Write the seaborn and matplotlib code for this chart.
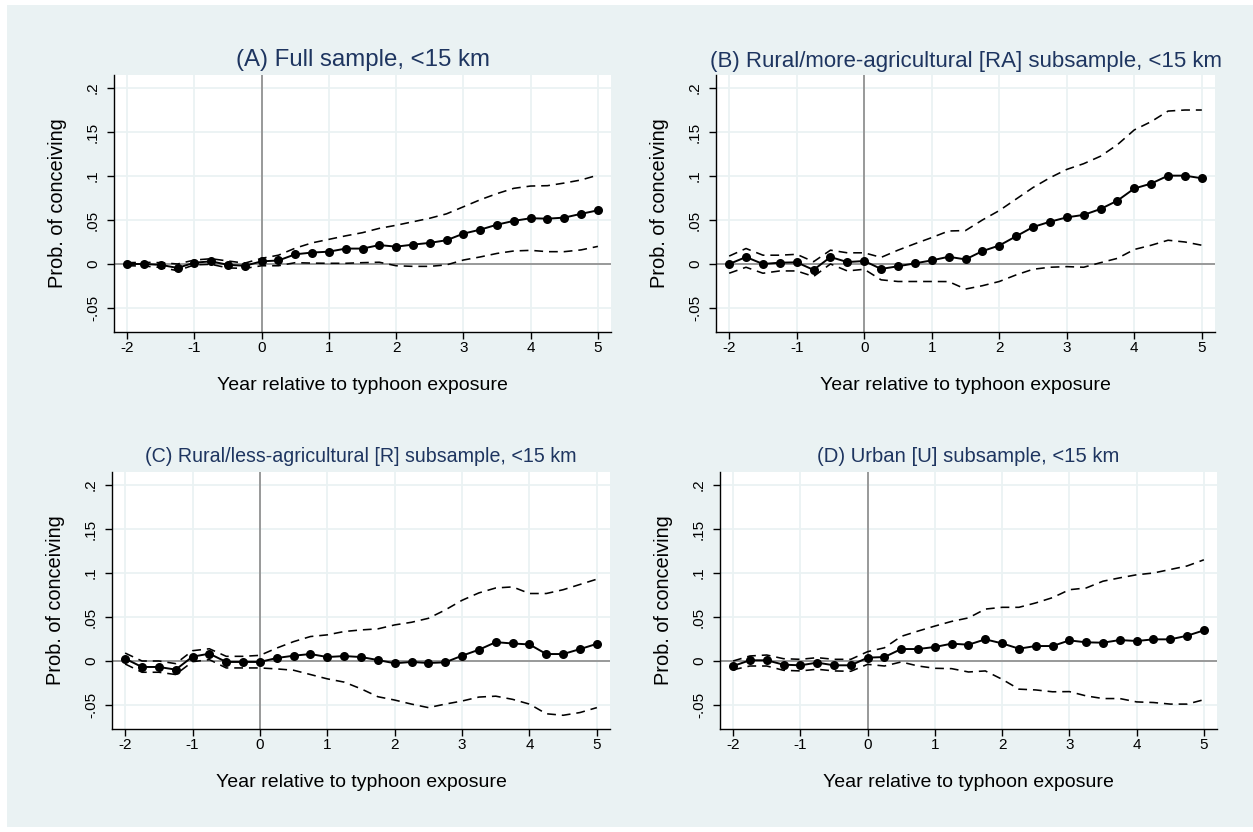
import numpy as np
import pandas as pd
import matplotlib
matplotlib.use("Agg")
import matplotlib.pyplot as plt
import seaborn as sns

# ---------------- data ----------------
years = [-2, -1.75, -1.5, -1.25, -1, -0.75, -0.5, -0.25, 0, 0.25, 0.5, 0.75, 1,
         1.25, 1.5, 1.75, 2, 2.25, 2.5, 2.75, 3, 3.25, 3.5, 3.75, 4, 4.25, 4.5,
         4.75, 5]

titles = ["(A) Full sample, <15 km",
          "(B) Rural/more-agricultural [RA] subsample, <15 km",
          "(C) Rural/less-agricultural [R] subsample, <15 km",
          "(D) Urban [U] subsample, <15 km"]

est_A = [0.0, 0.0, -0.001, -0.0045, 0.0015, 0.003, -0.001, -0.002, 0.003, 0.004,
         0.011, 0.013, 0.014, 0.0175, 0.0175, 0.0215, 0.0197, 0.022, 0.024, 0.027,
         0.0345, 0.039, 0.0447, 0.049, 0.052, 0.0515, 0.0527, 0.057, 0.061]
hi_A = [0.0015, 0.0019, 0.0015, 0.0, 0.0045, 0.006, 0.0034, 0.001, 0.0064, 0.010,
        0.018, 0.024, 0.028, 0.032, 0.0356, 0.0405, 0.044, 0.048, 0.052, 0.057,
        0.065, 0.073, 0.080, 0.086, 0.0886, 0.089, 0.092, 0.0955, 0.101]
lo_A = [-0.002, -0.0023, -0.004, -0.0076, -0.001, -0.0004, -0.0045, -0.005, -0.002,
        -0.002, 0.0015, 0.001, 0.0008, 0.0008, 0.0015, 0.002, -0.002, -0.0027,
        -0.0027, -0.001, 0.0045, 0.008, 0.012, 0.0148, 0.0155, 0.014, 0.014, 0.016,
        0.020]

est_B = [0.0, 0.0079, 0.0, 0.0015, 0.0019, -0.0067, 0.0079, 0.0022, 0.0034, -0.0056,
         -0.0026, 0.0007, 0.0041, 0.0082, 0.0052, 0.0146, 0.021, 0.0315, 0.042,
         0.048, 0.053, 0.0558, 0.0625, 0.072, 0.0858, 0.0914, 0.1004, 0.1004, 0.0974]
hi_B = [0.009, 0.0176, 0.010, 0.010, 0.011, 0.0026, 0.0157, 0.0127, 0.0127, 0.0075,
        0.0157, 0.023, 0.030, 0.0375, 0.038, 0.050, 0.0607, 0.0738, 0.0869, 0.098,
        0.1075, 0.114, 0.1225, 0.1356, 0.1524, 0.1618, 0.1738, 0.175, 0.175]
lo_B = [-0.0105, -0.0037, -0.0105, -0.0079, -0.0079, -0.0142, 0.0, -0.0079, -0.006,
        -0.018, -0.0199, -0.0199, -0.0199, -0.020, -0.0285, -0.0247, -0.0199,
        -0.0124, -0.006, -0.0037, -0.003, -0.0037, 0.0015, 0.0064, 0.0165, 0.0213,
        0.027, 0.025, 0.0213]

est_C = [0.0026, -0.0068, -0.0068, -0.0098, 0.0049, 0.0083, -0.0011, -0.0011,
         -0.0011, 0.0034, 0.006, 0.0079, 0.0045, 0.0056, 0.0045, 0.0011, -0.0026,
         -0.0011, -0.0023, -0.0015, 0.006, 0.0128, 0.0214, 0.0199, 0.0188, 0.0079,
         0.0079, 0.0135, 0.0195]
hi_C = [0.009, 0.0, 0.0, -0.003, 0.0117, 0.0139, 0.0053, 0.0053, 0.0064, 0.0147,
        0.022, 0.0278, 0.0297, 0.0335, 0.0353, 0.0365, 0.041, 0.044, 0.0485, 0.058,
        0.069, 0.0774, 0.083, 0.0842, 0.0767, 0.0767, 0.081, 0.087, 0.093]
lo_C = [-0.0034, -0.0128, -0.0128, -0.0154, -0.0008, 0.0015, -0.0079, -0.0079,
        -0.0079, -0.009, -0.0105, -0.0154, -0.0203, -0.024, -0.0316, -0.0406,
        -0.0444, -0.049, -0.053, -0.049, -0.0455, -0.041, -0.040, -0.0436, -0.049,
        -0.060, -0.0617, -0.0586, -0.053]

est_D = [-0.0057, 0.0008, 0.0008, -0.0042, -0.0049, -0.0019, -0.0049, -0.0049,
         0.0038, 0.0045, 0.0136, 0.0136, 0.0159, 0.0197, 0.0185, 0.0246, 0.020,
         0.014, 0.017, 0.017, 0.0234, 0.0212, 0.0208, 0.0238, 0.0227, 0.0246,
         0.0246, 0.0287, 0.0348]
hi_D = [0.0, 0.0057, 0.0068, 0.0026, 0.0019, 0.0038, 0.0019, 0.0019, 0.0106, 0.015,
        0.028, 0.034, 0.0397, 0.045, 0.049, 0.059, 0.061, 0.061, 0.066, 0.072,
        0.081, 0.083, 0.0907, 0.0945, 0.098, 0.100, 0.104, 0.108, 0.115]
lo_D = [-0.010, -0.0057, -0.0057, -0.0106, -0.0113, -0.0094, -0.0113, -0.0117,
        -0.0038, -0.0057, -0.0011, -0.0057, -0.0083, -0.0087, -0.0125, -0.0113,
        -0.0208, -0.032, -0.0329, -0.035, -0.0348, -0.0397, -0.0427, -0.0427,
        -0.0465, -0.0472, -0.049, -0.049, -0.044]

xticks = [-2, -1, 0, 1, 2, 3, 4, 5]
xtick_labels = ["-2", "-1", "0", "1", "2", "3", "4", "5"]
yticks = [-0.05, 0, 0.05, 0.1, 0.15, 0.2]
ytick_labels = ["-.05", "0", ".05", ".1", ".15", ".2"]

xlabel = "Year relative to typhoon exposure"
ylabel = "Prob. of conceiving"

panels = [(est_A, hi_A, lo_A), (est_B, hi_B, lo_B),
          (est_C, hi_C, lo_C), (est_D, hi_D, lo_D)]

# ---------------- style ----------------
sns.set_style("white")
plt.rcParams["font.family"] = ["Liberation Sans", "DejaVu Sans"]

BG = "#EAF2F3"
TITLE_C = "#1E3560"
W, H = 1253, 832

fig = plt.figure(figsize=(W / 100, H / 100), dpi=100, facecolor="white")
fig.patches.append(matplotlib.patches.Rectangle(
    (7 / W, 5 / H), (W - 7) / W, (H - 10) / H, transform=fig.transFigure,
    facecolor=BG, edgecolor="none", zorder=-10))

def rect(l, t, r, b):
    return [l / W, 1 - b / H, (r - l) / W, (b - t) / H]

boxes = [rect(114, 75, 611, 332), rect(716, 75, 1215, 332),
         rect(112, 472, 610, 729), rect(720, 472, 1217, 729)]
title_sizes = [17.3, 16.0, 14.1, 14.6]
title_pads = [6.5, 5.5, 7.5, 7.5]

for (est, hi, lo), title, box, tsz, tpad in zip(panels, titles, boxes,
                                               title_sizes, title_pads):
    ax = fig.add_axes(box)
    ax.set_facecolor("white")
    df = pd.DataFrame({"year": years, "est": est, "hi": hi, "lo": lo})

    ax.axhline(0, color="#8a8a8a", lw=1.2, zorder=1)
    ax.axvline(0, color="#8a8a8a", lw=1.2, zorder=1)

    for col in ["hi", "lo"]:
        sns.lineplot(data=df, x="year", y=col, ax=ax, color="black",
                     lw=1.15, linestyle=(0, (5.5, 3.7)), errorbar=None,
                     zorder=3)
    sns.lineplot(data=df, x="year", y="est", ax=ax, color="black", lw=1.4,
                 marker="o", markersize=6.5, markeredgewidth=0,
                 errorbar=None, zorder=4)

    ax.set_xlim(-2.195, 5.195)
    ax.set_ylim(-0.0773, 0.2148)
    ax.set_xticks(xticks)
    ax.set_xticklabels(xtick_labels)
    ax.set_yticks(yticks)
    ax.set_yticklabels(ytick_labels, rotation=90, va="center")
    ax.grid(True, color=BG, lw=1.3, zorder=0)
    ax.set_axisbelow(True)

    for s in ["top", "right"]:
        ax.spines[s].set_visible(False)
    for s in ["left", "bottom"]:
        ax.spines[s].set_color("black")
        ax.spines[s].set_linewidth(1.0)
    ax.tick_params(axis="both", which="major", direction="out", length=5,
                   width=1.0, color="black", labelsize=11, labelcolor="black",
                   bottom=True, left=True)
    ax.tick_params(axis="x", pad=1.5)
    ax.tick_params(axis="y", pad=5)

    ax.set_xlabel(xlabel, fontsize=14, color="black", va="top")
    ax.xaxis.set_label_coords(0.5, -0.174)
    ax.set_ylabel(ylabel, fontsize=14.4, color="black")
    ax.yaxis.set_label_coords(-0.095, 0.5)
    ax.set_title(title, fontsize=tsz, color=TITLE_C, pad=tpad)

fig.savefig("out.png", dpi=100, facecolor="white")
